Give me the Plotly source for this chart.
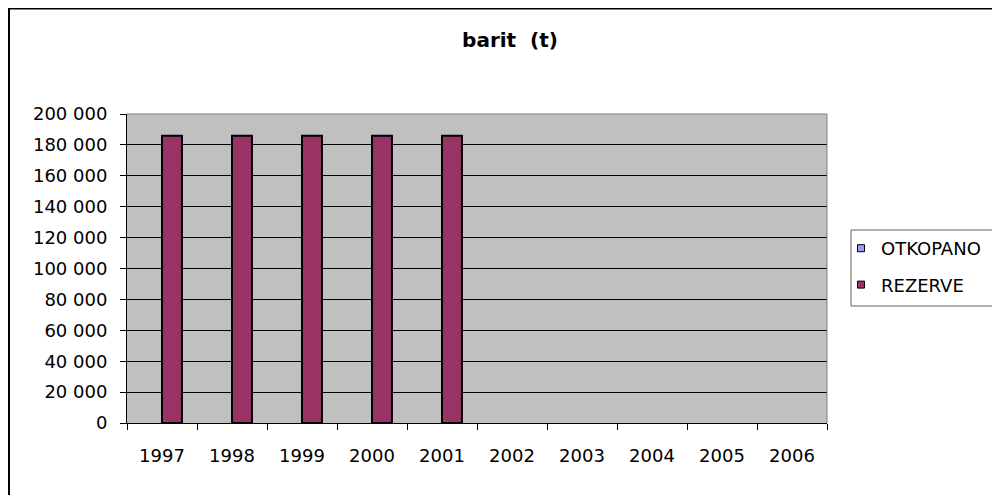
import plotly.graph_objects as go

years = ["1997", "1998", "1999", "2000", "2001", "2002", "2003", "2004", "2005", "2006"]
otkopano = [None, None, None, None, None, None, None, None, None, None]
rezerve = [186000, 186000, 186000, 186000, 186000, None, None, None, None, None]
series_names = ["OTKOPANO", "REZERVE"]
series_colors = ["#9999FF", "#993366"]

FONT = "DejaVu Sans, Liberation Sans, Arial, sans-serif"

fig = go.Figure()
for name, vals, col in zip(series_names, [otkopano, rezerve], series_colors):
    fig.add_trace(go.Bar(x=years, y=vals, name=name, showlegend=False,
                         marker=dict(color=col, line=dict(color="black", width=2))))
for i, (name, col) in enumerate(zip(series_names, series_colors)):
    fig.add_trace(go.Scatter(x=[None], y=[None], mode="markers", name=name,
                             legendgroup=str(i),
                             marker=dict(symbol="square", size=7, color=col,
                                         line=dict(color="black", width=1))))

OFF = 8  # page body margin
W, H = 992, 487
# plot area in page coordinates
PL, PR, PT, PB = 127, 827, 114, 423
L, R, T, B = PL - OFF, W - (PR - OFF), PT - OFF, H - (PB - OFF)
pw, ph = PR - PL, PB - PT

def px(x):
    return (x - PL) / pw

def py(y):
    return (PB - y) / ph

fig.update_layout(
    width=W, height=H,
    margin=dict(l=L, r=R, t=T, b=B, pad=0),
    paper_bgcolor="white", plot_bgcolor="#C0C0C0",
    barmode="group", bargap=0.43, bargroupgap=0,
    separators=", ",
    font=dict(family=FONT, size=18, color="black"),
    title=dict(text="<b>barit  (t)</b>", x=px(510), xref="paper", xanchor="center",
               y=1 - (40 - OFF) / H, yref="container", yanchor="middle",
               font=dict(family=FONT, size=20, color="black")),
    legend=dict(x=px(841), xanchor="left", y=py(230), yanchor="top",
                bgcolor="rgba(0,0,0,0)", borderwidth=0, tracegroupgap=10,
                itemwidth=30, font=dict(family=FONT, size=18, color="black")),
    xaxis=dict(type="category", showgrid=False, showline=True, linecolor="black", linewidth=1,
               ticks="outside", tickson="boundaries", ticklen=6, tickcolor="black",
               ticklabelstandoff=16, zeroline=False),
    yaxis=dict(range=[0, 200000], dtick=20000, tickformat=",", showgrid=True,
               gridcolor="black", gridwidth=1, showline=True, linecolor="black", linewidth=1,
               ticks="outside", ticklen=6, tickcolor="black", ticklabelstandoff=9,
               zeroline=False),
    shapes=[
        dict(type="line", xref="paper", yref="paper", x0=0, x1=1, y0=1, y1=1,
             line=dict(color="#808080", width=1), layer="above"),
        dict(type="line", xref="paper", yref="paper", x0=1, x1=1, y0=0, y1=1,
             line=dict(color="#808080", width=1), layer="above"),
        dict(type="rect", xref="paper", yref="paper", x0=px(851), x1=px(1010),
             y0=py(306), y1=py(230), line=dict(color="#606060", width=1)),
        dict(type="rect", xref="paper", yref="paper", x0=px(9), x1=px(1010),
             y0=py(510), y1=py(8.5), line=dict(color="black", width=2)),
    ],
)

fig.write_html("out.html")
